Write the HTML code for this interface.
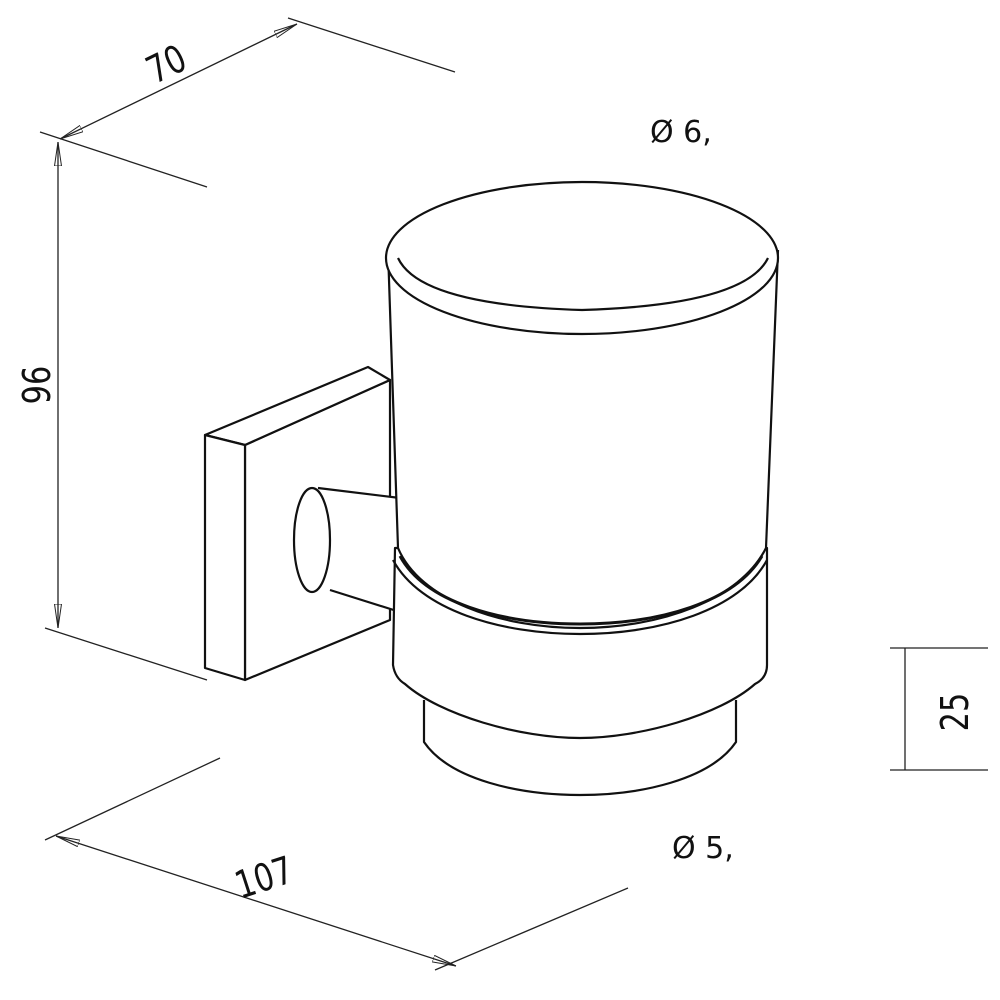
<!DOCTYPE html>
<html><head><meta charset="utf-8"><style>
html,body{margin:0;padding:0;background:#fff}
svg{display:block}
text{font-family:"DejaVu Sans","Liberation Sans",sans-serif;fill:#111}
</style></head><body>
<svg width="1000" height="1000" viewBox="0 0 1000 1000" xmlns="http://www.w3.org/2000/svg">
<defs>
<marker id="a" viewBox="0 0 24 8" refX="24" refY="4" markerWidth="24" markerHeight="8" orient="auto-start-reverse" markerUnits="userSpaceOnUse">
<path d="M24,4 L0,0.5 L0,7.5 Z" fill="none" stroke="#222" stroke-width="1"/>
</marker>
</defs>
<g stroke="#222" stroke-width="1.3" fill="none">
<line x1="40" y1="132" x2="207" y2="187"/>
<line x1="288" y1="18" x2="455" y2="72"/>
<line x1="60" y1="139" x2="297" y2="24" marker-start="url(#a)" marker-end="url(#a)"/>
<line x1="58" y1="142" x2="58" y2="628" marker-start="url(#a)" marker-end="url(#a)"/>
<line x1="45" y1="628" x2="207" y2="680"/>
<line x1="45" y1="840" x2="220" y2="758"/>
<line x1="435" y1="970" x2="628" y2="888"/>
<line x1="56" y1="836" x2="456" y2="966" marker-start="url(#a)" marker-end="url(#a)"/>
<line x1="905" y1="648" x2="905" y2="770"/>
<line x1="890" y1="648" x2="988" y2="648"/>
<line x1="890" y1="770" x2="988" y2="770"/>
</g>
<g stroke="#111" stroke-width="2.2" fill="#fff" stroke-linejoin="round">
<path d="M245,445 L390,380 L390,620 L245,680 Z"/>
<path d="M205,435 L368,367 L390,380 L245,445 Z"/>
<path d="M205,435 L245,445 L245,680 L205,668 Z"/>
<path d="M318,488 L400,498 L400,612 L330,590"/>
<ellipse cx="312" cy="540" rx="18" ry="52"/>
<path d="M424,700 L424,742 C450,780 520,795 580,795 C640,795 710,780 736,742 L736,700"/>
<path d="M395,548 L393,665 Q395,678 405,684 C440,715 520,738 580,738 C640,738 720,715 755,684 Q767,678 767,665 L767,548 Z"/>
<path d="M388,250 L398,548 C420,600 500,628 580,628 C660,628 740,600 766,548 L778,250"/>
<path d="M393,560 C420,610 500,634 580,634 C660,634 740,610 767,560" fill="none"/>
<path d="M400,556 C425,602 500,624 580,624 C660,624 735,602 762,556" fill="none" stroke-width="3"/>
<ellipse cx="582" cy="258" rx="196" ry="76"/>
<path d="M398,258 Q420,305 582,310 Q745,305 768,258" fill="none"/>
</g>
<text x="650" y="142" font-size="30">Ø 6,</text>
<text x="672" y="858" font-size="30">Ø 5,</text>
<text font-size="38" transform="translate(172,76) rotate(-26) scale(0.8,1)" text-anchor="middle">70</text>
<text font-size="38" transform="translate(50,385) rotate(-90) scale(0.8,1)" text-anchor="middle">96</text>
<text font-size="38" transform="translate(268,890) rotate(-18) scale(0.8,1)" text-anchor="middle">107</text>
<text font-size="38" transform="translate(968,712) rotate(-90) scale(0.8,1)" text-anchor="middle">25</text>
</svg>
</body></html>
